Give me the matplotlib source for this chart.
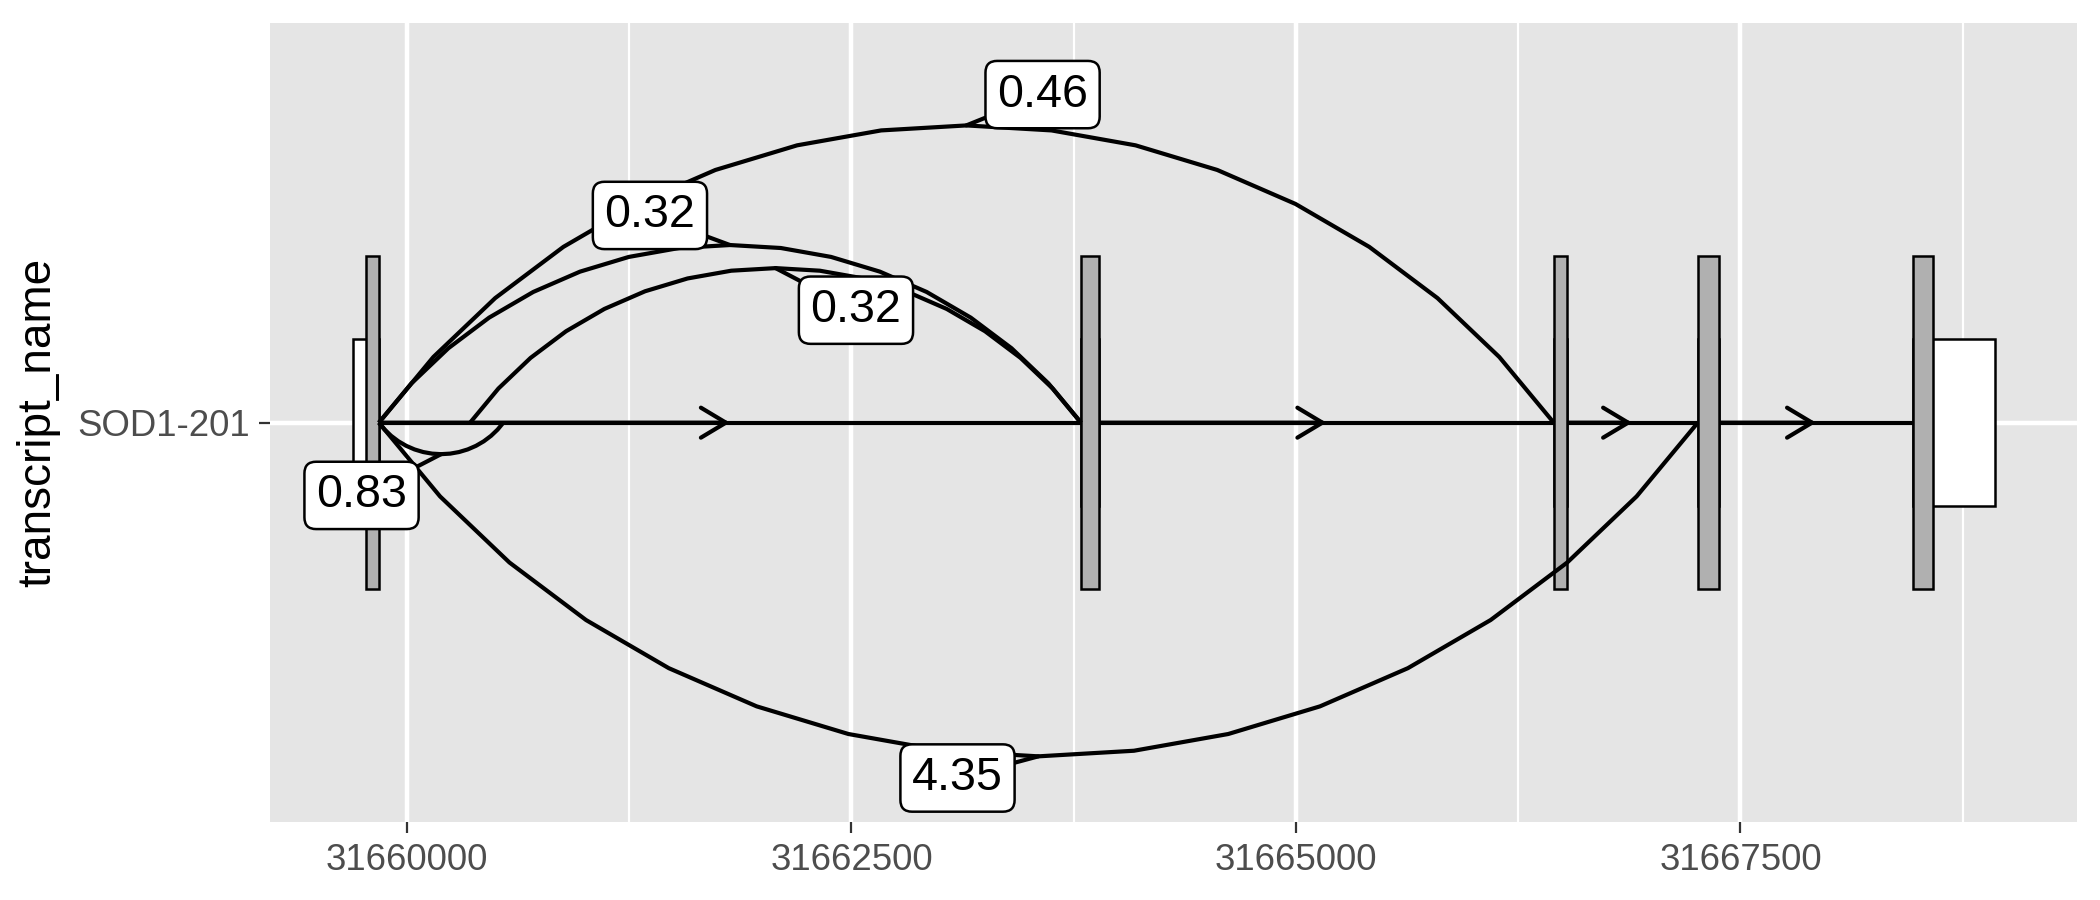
import numpy as np
import matplotlib
matplotlib.use("Agg")
import matplotlib.pyplot as plt
from matplotlib.patches import Rectangle

plt.rcParams['font.family'] = ['Liberation Sans', 'DejaVu Sans']

# transcript structure (genomic coordinates)
transcript = "SOD1-201"
gene_start, gene_end = 31659693, 31668931
exon_start = [31659694, 31663791, 31666450, 31667260, 31668473]
exon_end = [31659842, 31663893, 31666522, 31667378, 31668931]
cds_start = [31659769, 31663791, 31666450, 31667260, 31668473]
cds_end = [31659842, 31663893, 31666522, 31667378, 31668581]

# junctions
junc_start = [31659842, 31659842, 31660355, 31659842, 31659842]
junc_end = [31666450, 31663791, 31663791, 31660542, 31667260]
junc_side = [1, 1, 1, -1, -1]
junc_label = ["0.46", "0.32", "0.32", "0.83", "4.35"]
label_offset = [(18.3, 7.4), (-19.2, 7.1), (19.3, -10.1), (-19.1, -9.9), (-19.4, -5.2)]

x_ticks = [31660000, 31662500, 31665000, 31667500]
x_minor = [31661250, 31663750, 31666250, 31668750]

BG = "#E5E5E5"
LW = 1.0


def arc_points(ax, x0, x1, y, side, ratio=0.253, n=16):
    # circular arc drawn in screen space, like grid's curveGrob
    p0 = ax.transData.transform((x0, y))
    p1 = ax.transData.transform((x1, y))
    L = p1[0] - p0[0]
    s = ratio * L
    R = (L ** 2 / 4 + s ** 2) / (2 * s)
    half = np.arcsin(L / 2 / R)
    mid_x = (p0[0] + p1[0]) / 2
    cy = p0[1] + side * (s - R)
    th = np.linspace(-half, half, n + 1)
    px = mid_x + R * np.sin(th)
    py = cy + side * R * np.cos(th)
    return ax.transData.inverted().transform(np.column_stack([px, py]))


fig = plt.figure(figsize=(7, 3), dpi=300)
ax = fig.add_axes([0.1287, 0.0863, 0.86035, 0.88814])
ax.set_facecolor(BG)
pad = 0.05 * (gene_end - gene_start)
ax.set_xlim(gene_start - pad, gene_end + pad)
ax.set_ylim(0.4, 1.6)

# grid
for x in x_minor:
    ax.axvline(x, color="white", lw=0.53, zorder=0.5)
for x in x_ticks:
    ax.axvline(x, color="white", lw=1.07, zorder=0.6)
ax.axhline(1, color="white", lw=1.07, zorder=0.6)

y = 1
# introns with strand arrows at the midpoint
for i in range(len(exon_start) - 1):
    a, b = exon_end[i], exon_start[i + 1]
    mid = (a + b) / 2
    ax.plot([a, b], [y, y], color="black", lw=LW, solid_capstyle="butt", zorder=2)
    ax.annotate("", xy=(mid, y), xytext=(a, y),
                arrowprops=dict(arrowstyle="->,head_length=0.6,head_width=0.36",
                                mutation_scale=10, lw=LW, color="black",
                                shrinkA=0, shrinkB=0), zorder=2)

# exons (UTR height) then CDS
for s, e in zip(exon_start, exon_end):
    ax.add_patch(Rectangle((s, y - 0.125), e - s, 0.25, fc="white", ec="black", lw=0.6, zorder=3))
for s, e in zip(cds_start, cds_end):
    ax.add_patch(Rectangle((s, y - 0.25), e - s, 0.5, fc="#B0B0B0", ec="black", lw=0.6, zorder=3.1))

# junction curves and labels
for s, e, side, lab, off in zip(junc_start, junc_end, junc_side, junc_label, label_offset):
    pts = arc_points(ax, s, e, y, side)
    ax.plot(pts[:, 0], pts[:, 1], color="black", lw=LW, solid_capstyle="butt", zorder=4)
    anchor = pts[len(pts) // 2]
    ax.annotate(lab, xy=anchor, xytext=off, textcoords="offset points",
                ha="center", va="center", fontsize=11.2, zorder=6,
                bbox=dict(boxstyle="round,pad=0.25,rounding_size=0.25", fc="white", ec="black", lw=0.6),
                arrowprops=dict(arrowstyle="-", lw=LW, color="black", shrinkA=0, shrinkB=0))

ax.set_xticks(x_ticks)
ax.set_xticklabels([str(t) for t in x_ticks])
ax.set_yticks([y])
ax.set_yticklabels([transcript])
ax.tick_params(axis="both", length=2.75, width=0.53, color="#333333",
               labelcolor="#4D4D4D", labelsize=8.8, pad=2.2)
for sp in ax.spines.values():
    sp.set_visible(False)
ax.set_ylabel("transcript_name", fontsize=11, labelpad=4)

fig.savefig("out.png", dpi=300)
